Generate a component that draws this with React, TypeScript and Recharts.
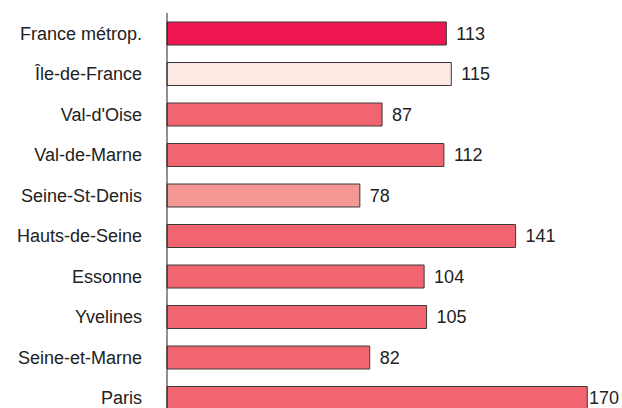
import React from "react";
import { BarChart, Bar, XAxis, YAxis, Cell, LabelList } from "recharts";

const categories = [
  "France métrop.",
  "Île-de-France",
  "Val-d'Oise",
  "Val-de-Marne",
  "Seine-St-Denis",
  "Hauts-de-Seine",
  "Essonne",
  "Yvelines",
  "Seine-et-Marne",
  "Paris",
];
const values = [113, 115, 87, 112, 78, 141, 104, 105, 82, 170];
const colors = [
  "#ee1651",
  "#fde8e4",
  "#f06570",
  "#f06570",
  "#f49795",
  "#f06570",
  "#f06570",
  "#f06570",
  "#f06570",
  "#f06570",
];

const data = categories.map((name, i) => ({ name, value: values[i] }));

const CHART_W = 622;
const FONT = "'Liberation Sans', Arial, Helvetica, sans-serif";

const ValueLabel = (props: any) => {
  const { x, y, width, height, value } = props;
  const tx = Math.min(x + width + 10, CHART_W - 33);
  return (
    <text
      x={tx}
      y={y + height / 2}
      textAnchor="start"
      dominantBaseline="central"
      fontSize={18}
      fontFamily={FONT}
      fill="#222"
    >
      {value}
    </text>
  );
};

export default function App() {
  return (
    <div
      style={{
        position: "fixed",
        left: 0,
        top: 0,
        width: 622,
        height: 408,
        overflow: "hidden",
        background: "#fff",
      }}
    >
      <BarChart
        width={CHART_W}
        height={430}
        data={data}
        layout="vertical"
        margin={{ top: 13, right: 10, bottom: 12, left: 0 }}
        barSize={23}
      >
        <XAxis type="number" domain={[0, 180]} hide />
        <YAxis
          type="category"
          dataKey="name"
          width={167}
          tickLine={false}
          tickSize={0}
          tickMargin={25}
          axisLine={{ stroke: "#222", strokeWidth: 1 }}
          tick={{ fontSize: 18, fontFamily: FONT, fill: "#222" }}
          interval={0}
        />
        <Bar dataKey="value" isAnimationActive={false} stroke="#3a3a3a" strokeWidth={1}>
          {data.map((d, i) => (
            <Cell key={d.name} fill={colors[i]} />
          ))}
          <LabelList dataKey="value" content={<ValueLabel />} />
        </Bar>
      </BarChart>
    </div>
  );
}
